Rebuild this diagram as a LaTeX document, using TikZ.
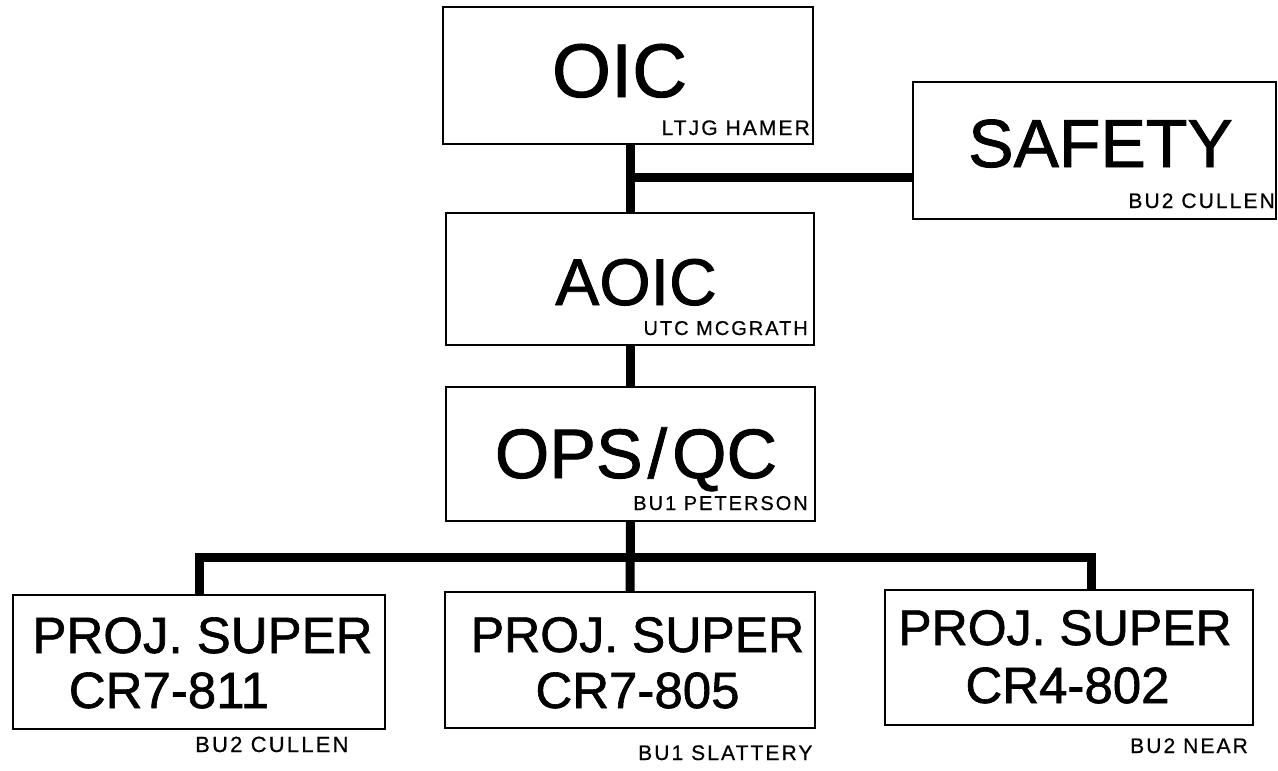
\documentclass[tikz,border=0pt]{standalone}
\usepackage{fontspec}
\setmainfont[FakeBold=1.2]{Liberation Sans}
\newfontfamily\namefont[LetterSpace=10,FakeBold=0.6]{Liberation Sans}
\begin{document}
\begin{tikzpicture}[x=1pt,y=-1pt,
  box/.style={draw, line width=1.4pt, inner sep=0pt, fill=none},
  bar/.style={line width=9pt, line join=miter, line cap=butt},
  big/.style={anchor=base, inner sep=0pt, font=\fontsize{#1}{#1}\selectfont},
  nm/.style={inner sep=0pt, font=\fontsize{#1}{#1}\namefont}]
\fill[white] (0,0) rectangle (1278,771);
\useasboundingbox (0,0) rectangle (1278,771);
% boxes
\node[box, minimum width=370pt, minimum height=137pt] (oic) at (628,75.5) {};
\node[box, minimum width=363pt, minimum height=137pt] (safety) at (1094.5,150.5) {};
\node[box, minimum width=368pt, minimum height=132pt] (aoic) at (630,279) {};
\node[box, minimum width=369pt, minimum height=134pt] (ops) at (630.5,454) {};
\node[box, minimum width=372pt, minimum height=134pt] (p1) at (199,662) {};
\node[box, minimum width=370pt, minimum height=136pt] (p2) at (630,660) {};
\node[box, minimum width=368pt, minimum height=135pt] (p3) at (1069,657.5) {};
% connectors
\coordinate (j1) at (630,177);
\coordinate (b3) at (1091,557);
\draw[bar] (aoic.north) -- (aoic.north |- oic.south);
\draw[bar] (j1) -- (j1 -| safety.west);
\draw[bar] (ops.north) -- (ops.north |- aoic.south);
\draw[bar] (ops.south) -- (p2.north);
\draw[bar] (p1.north) |- (b3) -- (b3 |- p3.north);
% texts
\node[big=76] (toic) at (619.5,97) {OIC};
\node[nm=21, anchor=base east] (noic) at (810,135) {LTJG HAMER};
\node[big=68] (tsafety) at (1100.5,167) {SAFETY};
\node[nm=21, anchor=base east] (nsafety) at (1275,208) {BU2 CULLEN};
\node[big=66] (taoic) at (636,305) {AOIC};
\node[nm=20, anchor=base east] (naoic) at (808,335) {UTC MCGRATH};
\node[big=70] (tops) at (636,478) {OPS\kern5pt/\kern5pt QC};
\node[nm=20, anchor=base east] (nops) at (808,510) {BU1 PETERSON};
\node[big=51] (tp1a) at (202.5,653) {PROJ. SUPER};
\node[big=51] (tp1b) at (169,708) {CR7-811};
\node[big=50] (tp2a) at (637.5,652) {PROJ. SUPER};
\node[big=51] (tp2b) at (637.5,708) {CR7-805};
\node[big=50] (tp3a) at (1065,645) {PROJ. SUPER};
\node[big=51] (tp3b) at (1067.5,703) {CR4-802};
\node[nm=22, anchor=base west] (np1) at (195,752) {BU2 CULLEN};
\node[nm=21, anchor=base west] (np2) at (638,760) {BU1 SLATTERY};
\node[nm=21, anchor=base west] (np3) at (1130,753) {BU2 NEAR};
\end{tikzpicture}
\end{document}
